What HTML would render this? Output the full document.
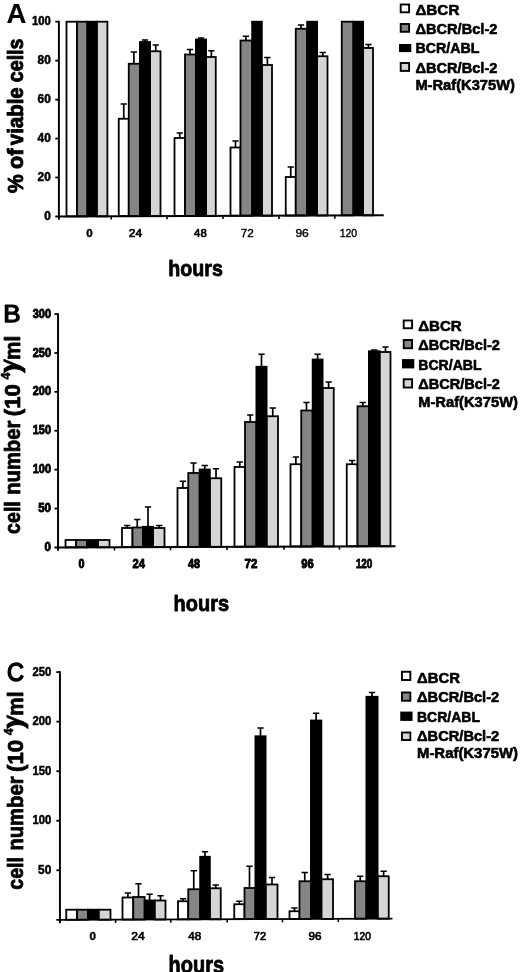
<!DOCTYPE html>
<html><head><meta charset="utf-8"><title>Figure</title>
<style>
html,body{margin:0;padding:0;background:#fff;}
body{width:520px;height:972px;overflow:hidden;}
svg{display:block;}
svg text{font-family:"Liberation Sans",sans-serif;font-weight:bold;fill:#000;stroke:#000;stroke-width:0.45px;stroke-linejoin:round;}

</style></head><body>
<svg width="520" height="972" viewBox="0 0 520 972">
<rect width="520" height="972" fill="#fff"/>
<rect x="66.50" y="21.70" width="10.50" height="194.64" fill="#ffffff" stroke="#000" stroke-width="1.8"/>
<rect x="77.00" y="21.70" width="10.40" height="194.64" fill="#858585" stroke="#000" stroke-width="1.8"/>
<rect x="96.80" y="21.70" width="10.60" height="194.64" fill="#d5d5d5" stroke="#000" stroke-width="1.8"/>
<rect x="86.50" y="20.80" width="11.20" height="195.54" fill="#000"/>
<path d="M123.75 118.75V104.00M120.60 104.00H126.90" stroke="#000" stroke-width="1.7" fill="none"/>
<path d="M133.88 63.75V52.00M130.72 52.00H137.03" stroke="#000" stroke-width="1.7" fill="none"/>
<path d="M145.00 42.00V40.00M141.85 40.00H148.15" stroke="#000" stroke-width="1.7" fill="none"/>
<path d="M155.75 51.25V45.00M152.60 45.00H158.90" stroke="#000" stroke-width="1.7" fill="none"/>
<rect x="118.75" y="118.75" width="10.00" height="97.39" fill="#ffffff" stroke="#000" stroke-width="1.8"/>
<rect x="128.75" y="63.75" width="11.15" height="152.39" fill="#858585" stroke="#000" stroke-width="1.8"/>
<rect x="150.10" y="51.25" width="10.40" height="164.89" fill="#d5d5d5" stroke="#000" stroke-width="1.8"/>
<rect x="139.00" y="41.10" width="12.00" height="175.04" fill="#000"/>
<path d="M179.75 138.00V133.00M176.60 133.00H182.90" stroke="#000" stroke-width="1.7" fill="none"/>
<path d="M190.00 54.50V49.50M186.85 49.50H193.15" stroke="#000" stroke-width="1.7" fill="none"/>
<path d="M201.00 39.50V38.00M197.85 38.00H204.15" stroke="#000" stroke-width="1.7" fill="none"/>
<path d="M211.38 57.00V50.75M208.22 50.75H214.53" stroke="#000" stroke-width="1.7" fill="none"/>
<rect x="174.50" y="138.00" width="10.50" height="77.93" fill="#ffffff" stroke="#000" stroke-width="1.8"/>
<rect x="185.00" y="54.50" width="10.90" height="161.43" fill="#858585" stroke="#000" stroke-width="1.8"/>
<rect x="206.10" y="57.00" width="9.65" height="158.93" fill="#d5d5d5" stroke="#000" stroke-width="1.8"/>
<rect x="195.00" y="38.60" width="12.00" height="177.33" fill="#000"/>
<path d="M235.50 147.50V141.00M232.35 141.00H238.65" stroke="#000" stroke-width="1.7" fill="none"/>
<path d="M245.88 40.50V36.25M242.72 36.25H249.03" stroke="#000" stroke-width="1.7" fill="none"/>
<path d="M267.38 65.00V57.50M264.23 57.50H270.52" stroke="#000" stroke-width="1.7" fill="none"/>
<rect x="230.50" y="147.50" width="10.00" height="68.21" fill="#ffffff" stroke="#000" stroke-width="1.8"/>
<rect x="240.50" y="40.50" width="11.65" height="175.21" fill="#858585" stroke="#000" stroke-width="1.8"/>
<rect x="261.85" y="65.00" width="10.15" height="150.71" fill="#d5d5d5" stroke="#000" stroke-width="1.8"/>
<rect x="251.25" y="20.80" width="11.50" height="194.91" fill="#000"/>
<path d="M290.75 177.00V167.00M287.60 167.00H293.90" stroke="#000" stroke-width="1.7" fill="none"/>
<path d="M301.00 28.75V25.00M297.85 25.00H304.15" stroke="#000" stroke-width="1.7" fill="none"/>
<path d="M322.75 56.25V52.50M319.60 52.50H325.90" stroke="#000" stroke-width="1.7" fill="none"/>
<rect x="285.75" y="177.00" width="10.00" height="38.50" fill="#ffffff" stroke="#000" stroke-width="1.8"/>
<rect x="295.75" y="28.75" width="11.40" height="186.75" fill="#858585" stroke="#000" stroke-width="1.8"/>
<rect x="317.10" y="56.25" width="10.40" height="159.25" fill="#d5d5d5" stroke="#000" stroke-width="1.8"/>
<rect x="306.25" y="20.80" width="11.75" height="194.70" fill="#000"/>
<path d="M368.50 48.00V44.50M365.35 44.50H371.65" stroke="#000" stroke-width="1.7" fill="none"/>
<rect x="341.75" y="21.70" width="11.65" height="193.62" fill="#858585" stroke="#000" stroke-width="1.8"/>
<rect x="363.10" y="48.00" width="9.90" height="167.32" fill="#d5d5d5" stroke="#000" stroke-width="1.8"/>
<rect x="352.50" y="20.80" width="11.50" height="194.52" fill="#000"/>
<path d="M58.9 20.80V219.75M55.30 216.45L383.75 215.20" stroke="#000" stroke-width="1.95" fill="none"/>
<path d="M55.30 177.50H58.9" stroke="#000" stroke-width="1.8"/>
<path d="M55.30 138.55H58.9" stroke="#000" stroke-width="1.8"/>
<path d="M55.30 99.60H58.9" stroke="#000" stroke-width="1.8"/>
<path d="M55.30 60.65H58.9" stroke="#000" stroke-width="1.8"/>
<path d="M55.30 21.70H58.9" stroke="#000" stroke-width="1.8"/>
<path d="M111.2 216.25V219.55" stroke="#000" stroke-width="1.6"/>
<path d="M167 216.03V219.33" stroke="#000" stroke-width="1.6"/>
<path d="M223 215.82V219.12" stroke="#000" stroke-width="1.6"/>
<path d="M279 215.60V218.90" stroke="#000" stroke-width="1.6"/>
<path d="M334.8 215.39V218.69" stroke="#000" stroke-width="1.6"/>
<text x="50.8" y="220.05" font-size="12" text-anchor="end" textLength="6.6" lengthAdjust="spacingAndGlyphs" style="stroke-width:0.5px">0</text>
<text x="50.8" y="181.1" font-size="12" text-anchor="end" textLength="13.2" lengthAdjust="spacingAndGlyphs" style="stroke-width:0.5px">20</text>
<text x="50.8" y="142.15" font-size="12" text-anchor="end" textLength="13.2" lengthAdjust="spacingAndGlyphs" style="stroke-width:0.5px">40</text>
<text x="50.8" y="103.2" font-size="12" text-anchor="end" textLength="13.2" lengthAdjust="spacingAndGlyphs" style="stroke-width:0.5px">60</text>
<text x="50.8" y="64.25" font-size="12" text-anchor="end" textLength="13.2" lengthAdjust="spacingAndGlyphs" style="stroke-width:0.5px">80</text>
<text x="50.8" y="25.3" font-size="12" text-anchor="end" textLength="18.8" lengthAdjust="spacingAndGlyphs" style="stroke-width:0.5px">100</text>
<text x="89.39999999999999" y="237.3" font-size="11.6" text-anchor="middle" >0</text>
<text x="135.4" y="237.3" font-size="11.6" text-anchor="middle" textLength="13.3" lengthAdjust="spacingAndGlyphs" style="font-weight:normal;stroke-width:0.7px">24</text>
<text x="200.4" y="237.3" font-size="11.6" text-anchor="middle" textLength="12.6" lengthAdjust="spacingAndGlyphs" style="font-weight:normal;stroke-width:0.7px">48</text>
<text x="247.2" y="237.3" font-size="11.6" text-anchor="middle" textLength="13.0" lengthAdjust="spacingAndGlyphs" style="font-weight:normal;stroke-width:0.4px">72</text>
<text x="302.1" y="237.3" font-size="11.6" text-anchor="middle" textLength="13.4" lengthAdjust="spacingAndGlyphs" style="font-weight:normal;stroke-width:0.4px">96</text>
<text x="348.40000000000003" y="237.3" font-size="11.6" text-anchor="middle" textLength="17.5" lengthAdjust="spacingAndGlyphs" style="font-weight:normal;stroke-width:0.4px">120</text>
<text x="6.6" y="23.0" font-size="27.5" text-anchor="start" style="stroke-width:0.2px">A</text>
<text transform="translate(23.3,192.9) rotate(-90)" font-size="22.5" textLength="18.7" lengthAdjust="spacingAndGlyphs" style="stroke-width:0.9px">%</text>
<text transform="translate(23.3,168.9) rotate(-90)" font-size="22.5" textLength="20.5" lengthAdjust="spacingAndGlyphs" style="stroke-width:0.9px">of</text>
<text transform="translate(23.3,145.2) rotate(-90)" font-size="22.5" textLength="57.9" lengthAdjust="spacingAndGlyphs" style="stroke-width:0.9px">viable</text>
<text transform="translate(23.3,82.2) rotate(-90)" font-size="22.5" textLength="43.7" lengthAdjust="spacingAndGlyphs" style="stroke-width:0.9px">cells</text>
<text x="168.3" y="275.8" font-size="22.5" text-anchor="start" textLength="54.6" lengthAdjust="spacingAndGlyphs" style="stroke-width:0.8px">hours</text>
<rect x="400.70" y="4.50" width="8.4" height="7.80" fill="#ffffff" stroke="#000" stroke-width="1.9"/>
<rect x="400.70" y="24.00" width="8.4" height="7.80" fill="#858585" stroke="#000" stroke-width="1.9"/>
<rect x="399" y="44.0" width="12.3" height="8.10" fill="#000"/>
<rect x="400.70" y="63.00" width="8.4" height="7.90" fill="#d5d5d5" stroke="#000" stroke-width="1.9"/>
<text x="415.4" y="14.9" font-size="15" text-anchor="start" textLength="44" lengthAdjust="spacingAndGlyphs" style="stroke-width:0.6px">ΔBCR</text>
<text x="415.4" y="33.8" font-size="15" text-anchor="start" textLength="82" lengthAdjust="spacingAndGlyphs" style="stroke-width:0.6px">ΔBCR/Bcl-2</text>
<text x="415.4" y="53.4" font-size="15" text-anchor="start" textLength="64" lengthAdjust="spacingAndGlyphs" style="stroke-width:0.6px">BCR/ABL</text>
<text x="415.4" y="72.9" font-size="15" text-anchor="start" textLength="82" lengthAdjust="spacingAndGlyphs" style="stroke-width:0.6px">ΔBCR/Bcl-2</text>
<text x="415.4" y="90.0" font-size="15" text-anchor="start" textLength="99.5" lengthAdjust="spacingAndGlyphs" style="stroke-width:0.6px">M-Raf(K375W)</text>
<rect x="65.50" y="540.00" width="10.50" height="7.29" fill="#ffffff" stroke="#000" stroke-width="1.8"/>
<rect x="76.00" y="540.00" width="10.90" height="7.29" fill="#858585" stroke="#000" stroke-width="1.8"/>
<rect x="97.85" y="540.00" width="11.65" height="7.29" fill="#d5d5d5" stroke="#000" stroke-width="1.8"/>
<rect x="86.00" y="539.10" width="12.75" height="8.19" fill="#000"/>
<path d="M127.25 528.00V525.50M124.10 525.50H130.40" stroke="#000" stroke-width="1.7" fill="none"/>
<path d="M137.25 527.50V519.50M134.10 519.50H140.40" stroke="#000" stroke-width="1.7" fill="none"/>
<path d="M148.00 526.75V507.00M144.85 507.00H151.15" stroke="#000" stroke-width="1.7" fill="none"/>
<path d="M159.25 528.00V525.50M156.10 525.50H162.40" stroke="#000" stroke-width="1.7" fill="none"/>
<rect x="122.00" y="528.00" width="10.50" height="19.08" fill="#ffffff" stroke="#000" stroke-width="1.8"/>
<rect x="132.50" y="527.50" width="10.40" height="19.58" fill="#858585" stroke="#000" stroke-width="1.8"/>
<rect x="153.10" y="528.00" width="11.40" height="19.08" fill="#d5d5d5" stroke="#000" stroke-width="1.8"/>
<rect x="142.00" y="525.85" width="12.00" height="21.23" fill="#000"/>
<path d="M182.88 488.00V481.25M179.72 481.25H186.03" stroke="#000" stroke-width="1.7" fill="none"/>
<path d="M193.50 473.00V463.00M190.35 463.00H196.65" stroke="#000" stroke-width="1.7" fill="none"/>
<path d="M204.75 469.50V465.50M201.60 465.50H207.90" stroke="#000" stroke-width="1.7" fill="none"/>
<path d="M216.00 478.25V468.75M212.85 468.75H219.15" stroke="#000" stroke-width="1.7" fill="none"/>
<rect x="177.50" y="488.00" width="10.75" height="58.88" fill="#ffffff" stroke="#000" stroke-width="1.8"/>
<rect x="188.25" y="473.00" width="11.40" height="73.88" fill="#858585" stroke="#000" stroke-width="1.8"/>
<rect x="209.85" y="478.25" width="11.40" height="68.63" fill="#d5d5d5" stroke="#000" stroke-width="1.8"/>
<rect x="198.75" y="468.60" width="12.00" height="78.28" fill="#000"/>
<path d="M239.75 467.00V462.00M236.60 462.00H242.90" stroke="#000" stroke-width="1.7" fill="none"/>
<path d="M250.25 422.00V415.00M247.10 415.00H253.40" stroke="#000" stroke-width="1.7" fill="none"/>
<path d="M261.50 366.75V354.25M258.35 354.25H264.65" stroke="#000" stroke-width="1.7" fill="none"/>
<path d="M272.75 416.25V408.00M269.60 408.00H275.90" stroke="#000" stroke-width="1.7" fill="none"/>
<rect x="234.50" y="467.00" width="10.50" height="79.67" fill="#ffffff" stroke="#000" stroke-width="1.8"/>
<rect x="245.00" y="422.00" width="11.40" height="124.67" fill="#858585" stroke="#000" stroke-width="1.8"/>
<rect x="266.60" y="416.25" width="11.40" height="130.42" fill="#d5d5d5" stroke="#000" stroke-width="1.8"/>
<rect x="255.50" y="365.85" width="12.00" height="180.82" fill="#000"/>
<path d="M295.88 464.25V457.00M292.73 457.00H299.02" stroke="#000" stroke-width="1.7" fill="none"/>
<path d="M306.50 410.50V402.50M303.35 402.50H309.65" stroke="#000" stroke-width="1.7" fill="none"/>
<path d="M317.62 359.50V354.25M314.48 354.25H320.77" stroke="#000" stroke-width="1.7" fill="none"/>
<path d="M328.62 388.00V382.00M325.48 382.00H331.77" stroke="#000" stroke-width="1.7" fill="none"/>
<rect x="290.50" y="464.25" width="10.75" height="82.21" fill="#ffffff" stroke="#000" stroke-width="1.8"/>
<rect x="301.25" y="410.50" width="11.40" height="135.96" fill="#858585" stroke="#000" stroke-width="1.8"/>
<rect x="322.60" y="388.00" width="11.15" height="158.46" fill="#d5d5d5" stroke="#000" stroke-width="1.8"/>
<rect x="311.75" y="358.60" width="11.75" height="187.86" fill="#000"/>
<path d="M352.12 464.25V460.50M348.98 460.50H355.27" stroke="#000" stroke-width="1.7" fill="none"/>
<path d="M362.75 406.25V402.50M359.60 402.50H365.90" stroke="#000" stroke-width="1.7" fill="none"/>
<path d="M374.25 351.25V350.00M371.10 350.00H377.40" stroke="#000" stroke-width="1.7" fill="none"/>
<path d="M385.50 352.00V347.00M382.35 347.00H388.65" stroke="#000" stroke-width="1.7" fill="none"/>
<rect x="346.75" y="464.25" width="10.75" height="82.00" fill="#ffffff" stroke="#000" stroke-width="1.8"/>
<rect x="357.50" y="406.25" width="11.40" height="140.00" fill="#858585" stroke="#000" stroke-width="1.8"/>
<rect x="379.60" y="352.00" width="10.90" height="194.25" fill="#d5d5d5" stroke="#000" stroke-width="1.8"/>
<rect x="368.00" y="350.35" width="12.50" height="195.90" fill="#000"/>
<path d="M58.05 313.20V550.70M54.45 547.4L395.5 546.15" stroke="#000" stroke-width="1.95" fill="none"/>
<path d="M54.45 508.52H58.05" stroke="#000" stroke-width="1.8"/>
<path d="M54.45 469.63H58.05" stroke="#000" stroke-width="1.8"/>
<path d="M54.45 430.75H58.05" stroke="#000" stroke-width="1.8"/>
<path d="M54.45 391.87H58.05" stroke="#000" stroke-width="1.8"/>
<path d="M54.45 352.98H58.05" stroke="#000" stroke-width="1.8"/>
<path d="M54.45 314.10H58.05" stroke="#000" stroke-width="1.8"/>
<path d="M114.5 547.19V550.49" stroke="#000" stroke-width="1.6"/>
<path d="M170.5 546.98V550.28" stroke="#000" stroke-width="1.6"/>
<path d="M227 546.77V550.07" stroke="#000" stroke-width="1.6"/>
<path d="M283.9 546.56V549.86" stroke="#000" stroke-width="1.6"/>
<path d="M339.5 546.36V549.66" stroke="#000" stroke-width="1.6"/>
<text x="51" y="551.0" font-size="12" text-anchor="end" textLength="6.4" lengthAdjust="spacingAndGlyphs" style="stroke-width:0.85px">0</text>
<text x="51" y="512.12" font-size="12" text-anchor="end" textLength="12.8" lengthAdjust="spacingAndGlyphs" style="stroke-width:0.85px">50</text>
<text x="51" y="473.23" font-size="12" text-anchor="end" textLength="18.2" lengthAdjust="spacingAndGlyphs" style="stroke-width:0.85px">100</text>
<text x="51" y="434.35" font-size="12" text-anchor="end" textLength="18.2" lengthAdjust="spacingAndGlyphs" style="stroke-width:0.85px">150</text>
<text x="51" y="395.47" font-size="12" text-anchor="end" textLength="18.2" lengthAdjust="spacingAndGlyphs" style="stroke-width:0.85px">200</text>
<text x="51" y="356.58" font-size="12" text-anchor="end" textLength="18.2" lengthAdjust="spacingAndGlyphs" style="stroke-width:0.85px">250</text>
<text x="51" y="317.7" font-size="12" text-anchor="end" textLength="18.2" lengthAdjust="spacingAndGlyphs" style="stroke-width:0.85px">300</text>
<text x="81.4" y="568.1" font-size="12.2" text-anchor="middle" textLength="6.0" lengthAdjust="spacingAndGlyphs" style="stroke-width:0.9px">0</text>
<text x="138.7" y="568.1" font-size="12.2" text-anchor="middle" textLength="12.4" lengthAdjust="spacingAndGlyphs" style="stroke-width:0.9px">24</text>
<text x="194.1" y="568.1" font-size="12.2" text-anchor="middle" textLength="12.0" lengthAdjust="spacingAndGlyphs" style="stroke-width:0.9px">48</text>
<text x="251.0" y="568.1" font-size="12.2" text-anchor="middle" textLength="12.8" lengthAdjust="spacingAndGlyphs" style="stroke-width:0.9px">72</text>
<text x="307.5" y="568.1" font-size="12.2" text-anchor="middle" textLength="12.4" lengthAdjust="spacingAndGlyphs" style="stroke-width:0.9px">96</text>
<text x="364.09999999999997" y="568.1" font-size="12.2" text-anchor="middle" textLength="16.4" lengthAdjust="spacingAndGlyphs" style="stroke-width:0.9px">120</text>
<text x="3.3" y="321.8" font-size="24.4" text-anchor="start" textLength="17.4" lengthAdjust="spacingAndGlyphs" style="font-weight:normal;stroke-width:1.25px">B</text>
<text x="173.6" y="611.1" font-size="22.5" text-anchor="start" textLength="55.5" lengthAdjust="spacingAndGlyphs" style="stroke-width:0.8px">hours</text>
<rect x="403.70" y="320.50" width="8.4" height="7.75" fill="#ffffff" stroke="#000" stroke-width="1.9"/>
<rect x="403.70" y="340.00" width="8.4" height="8.25" fill="#858585" stroke="#000" stroke-width="1.9"/>
<rect x="402" y="359.1" width="12.3" height="9.30" fill="#000"/>
<rect x="403.70" y="379.25" width="8.4" height="8.25" fill="#d5d5d5" stroke="#000" stroke-width="1.9"/>
<text x="418.2" y="330.5" font-size="15" text-anchor="start" textLength="43.5" lengthAdjust="spacingAndGlyphs" style="stroke-width:0.6px">ΔBCR</text>
<text x="418.2" y="349.5" font-size="15" text-anchor="start" textLength="81.75" lengthAdjust="spacingAndGlyphs" style="stroke-width:0.6px">ΔBCR/Bcl-2</text>
<text x="418.2" y="369.5" font-size="15" text-anchor="start" textLength="63.5" lengthAdjust="spacingAndGlyphs" style="stroke-width:0.6px">BCR/ABL</text>
<text x="418.2" y="389.25" font-size="15" text-anchor="start" textLength="81.75" lengthAdjust="spacingAndGlyphs" style="stroke-width:0.6px">ΔBCR/Bcl-2</text>
<text x="418.2" y="407.2" font-size="15" text-anchor="start" textLength="99.75" lengthAdjust="spacingAndGlyphs" style="stroke-width:0.6px">M-Raf(K375W)</text>
<rect x="66.25" y="909.70" width="10.75" height="10.04" fill="#ffffff" stroke="#000" stroke-width="1.8"/>
<rect x="77.00" y="909.70" width="10.90" height="10.04" fill="#858585" stroke="#000" stroke-width="1.8"/>
<rect x="98.60" y="909.70" width="11.90" height="10.04" fill="#d5d5d5" stroke="#000" stroke-width="1.8"/>
<rect x="87.00" y="908.80" width="12.50" height="10.94" fill="#000"/>
<path d="M127.88 897.50V893.00M124.72 893.00H131.03" stroke="#000" stroke-width="1.7" fill="none"/>
<path d="M138.50 897.00V883.75M135.35 883.75H141.65" stroke="#000" stroke-width="1.7" fill="none"/>
<path d="M149.62 900.50V894.25M146.47 894.25H152.78" stroke="#000" stroke-width="1.7" fill="none"/>
<path d="M160.50 900.50V895.75M157.35 895.75H163.65" stroke="#000" stroke-width="1.7" fill="none"/>
<rect x="122.50" y="897.50" width="10.75" height="22.03" fill="#ffffff" stroke="#000" stroke-width="1.8"/>
<rect x="133.25" y="897.00" width="11.40" height="22.53" fill="#858585" stroke="#000" stroke-width="1.8"/>
<rect x="154.60" y="900.50" width="10.90" height="19.03" fill="#d5d5d5" stroke="#000" stroke-width="1.8"/>
<rect x="143.75" y="899.60" width="11.75" height="19.93" fill="#000"/>
<path d="M183.12 901.25V898.75M179.97 898.75H186.28" stroke="#000" stroke-width="1.7" fill="none"/>
<path d="M193.75 889.25V870.75M190.60 870.75H196.90" stroke="#000" stroke-width="1.7" fill="none"/>
<path d="M205.00 856.75V851.75M201.85 851.75H208.15" stroke="#000" stroke-width="1.7" fill="none"/>
<path d="M215.75 888.25V885.00M212.60 885.00H218.90" stroke="#000" stroke-width="1.7" fill="none"/>
<rect x="178.00" y="901.25" width="10.25" height="18.08" fill="#ffffff" stroke="#000" stroke-width="1.8"/>
<rect x="188.25" y="889.25" width="11.90" height="30.08" fill="#858585" stroke="#000" stroke-width="1.8"/>
<rect x="209.85" y="888.25" width="10.90" height="31.08" fill="#d5d5d5" stroke="#000" stroke-width="1.8"/>
<rect x="199.25" y="855.85" width="11.50" height="63.48" fill="#000"/>
<path d="M239.38 904.25V901.25M236.22 901.25H242.53" stroke="#000" stroke-width="1.7" fill="none"/>
<path d="M249.50 888.00V866.25M246.35 866.25H252.65" stroke="#000" stroke-width="1.7" fill="none"/>
<path d="M260.50 736.25V728.00M257.35 728.00H263.65" stroke="#000" stroke-width="1.7" fill="none"/>
<path d="M272.00 884.50V877.50M268.85 877.50H275.15" stroke="#000" stroke-width="1.7" fill="none"/>
<rect x="234.25" y="904.25" width="10.25" height="14.86" fill="#ffffff" stroke="#000" stroke-width="1.8"/>
<rect x="244.50" y="888.00" width="10.90" height="31.11" fill="#858585" stroke="#000" stroke-width="1.8"/>
<rect x="265.60" y="884.50" width="11.90" height="34.61" fill="#d5d5d5" stroke="#000" stroke-width="1.8"/>
<rect x="254.50" y="735.35" width="12.00" height="183.76" fill="#000"/>
<path d="M294.50 911.25V908.00M291.35 908.00H297.65" stroke="#000" stroke-width="1.7" fill="none"/>
<path d="M304.75 881.25V872.50M301.60 872.50H307.90" stroke="#000" stroke-width="1.7" fill="none"/>
<path d="M316.12 720.50V713.25M312.98 713.25H319.27" stroke="#000" stroke-width="1.7" fill="none"/>
<path d="M327.62 879.25V874.50M324.48 874.50H330.77" stroke="#000" stroke-width="1.7" fill="none"/>
<rect x="289.50" y="911.25" width="10.00" height="7.66" fill="#ffffff" stroke="#000" stroke-width="1.8"/>
<rect x="299.50" y="881.25" width="11.40" height="37.66" fill="#858585" stroke="#000" stroke-width="1.8"/>
<rect x="321.35" y="879.25" width="11.65" height="39.66" fill="#d5d5d5" stroke="#000" stroke-width="1.8"/>
<rect x="310.00" y="719.60" width="12.25" height="199.31" fill="#000"/>
<path d="M360.25 881.25V876.25M357.10 876.25H363.40" stroke="#000" stroke-width="1.7" fill="none"/>
<path d="M372.00 696.75V692.50M368.85 692.50H375.15" stroke="#000" stroke-width="1.7" fill="none"/>
<path d="M383.62 876.25V871.25M380.48 871.25H386.77" stroke="#000" stroke-width="1.7" fill="none"/>
<rect x="355.00" y="881.25" width="11.40" height="37.45" fill="#858585" stroke="#000" stroke-width="1.8"/>
<rect x="377.60" y="876.25" width="11.15" height="42.45" fill="#d5d5d5" stroke="#000" stroke-width="1.8"/>
<rect x="365.50" y="695.85" width="13.00" height="222.85" fill="#000"/>
<path d="M59.95 671.20V923.15M56.35 919.85L392.5 918.60" stroke="#000" stroke-width="1.95" fill="none"/>
<path d="M56.35 870.30H59.95" stroke="#000" stroke-width="1.8"/>
<path d="M56.35 820.75H59.95" stroke="#000" stroke-width="1.8"/>
<path d="M56.35 771.20H59.95" stroke="#000" stroke-width="1.8"/>
<path d="M56.35 721.65H59.95" stroke="#000" stroke-width="1.8"/>
<path d="M56.35 672.10H59.95" stroke="#000" stroke-width="1.8"/>
<path d="M115.6 919.64V922.94" stroke="#000" stroke-width="1.6"/>
<path d="M170.75 919.43V922.73" stroke="#000" stroke-width="1.6"/>
<path d="M227.2 919.22V922.52" stroke="#000" stroke-width="1.6"/>
<path d="M282.5 919.01V922.31" stroke="#000" stroke-width="1.6"/>
<path d="M338.3 918.80V922.10" stroke="#000" stroke-width="1.6"/>
<text x="51.25" y="873.9" font-size="12" text-anchor="end" textLength="13.2" lengthAdjust="spacingAndGlyphs" style="stroke-width:0.5px">50</text>
<text x="51.25" y="824.35" font-size="12" text-anchor="end" textLength="18.8" lengthAdjust="spacingAndGlyphs" style="stroke-width:0.5px">100</text>
<text x="51.25" y="774.8" font-size="12" text-anchor="end" textLength="18.8" lengthAdjust="spacingAndGlyphs" style="stroke-width:0.5px">150</text>
<text x="51.25" y="725.25" font-size="12" text-anchor="end" textLength="18.8" lengthAdjust="spacingAndGlyphs" style="stroke-width:0.5px">200</text>
<text x="51.25" y="675.7" font-size="12" text-anchor="end" textLength="18.8" lengthAdjust="spacingAndGlyphs" style="stroke-width:0.5px">250</text>
<text x="92.8" y="939.8" font-size="11.6" text-anchor="middle" >0</text>
<text x="138.1" y="939.8" font-size="11.6" text-anchor="middle" textLength="13.5" lengthAdjust="spacingAndGlyphs" style="font-weight:normal;stroke-width:0.7px">24</text>
<text x="194.7" y="939.8" font-size="11.6" text-anchor="middle" textLength="13" lengthAdjust="spacingAndGlyphs" style="font-weight:normal;stroke-width:0.7px">48</text>
<text x="260" y="939.8" font-size="11.6" text-anchor="middle" textLength="12.3" lengthAdjust="spacingAndGlyphs" style="font-weight:normal;stroke-width:0.7px">72</text>
<text x="315" y="939.8" font-size="11.6" text-anchor="middle" textLength="13" lengthAdjust="spacingAndGlyphs" style="font-weight:normal;stroke-width:0.7px">96</text>
<text x="362.3" y="939.8" font-size="11.6" text-anchor="middle" textLength="17" lengthAdjust="spacingAndGlyphs" style="font-weight:normal;stroke-width:0.7px">120</text>
<text x="7.0" y="680.9" font-size="25.1" text-anchor="start" textLength="17.0" lengthAdjust="spacingAndGlyphs" style="font-weight:normal;stroke-width:1.45px">C</text>
<text x="168.6" y="973.2" font-size="23" text-anchor="start" textLength="55.4" lengthAdjust="spacingAndGlyphs" style="stroke-width:0.8px">hours</text>
<rect x="401.95" y="671.75" width="8.4" height="8.25" fill="#ffffff" stroke="#000" stroke-width="1.9"/>
<rect x="401.95" y="692.50" width="8.4" height="8.25" fill="#858585" stroke="#000" stroke-width="1.9"/>
<rect x="400.25" y="711.6" width="12.3" height="9.30" fill="#000"/>
<rect x="401.95" y="732.50" width="8.4" height="7.50" fill="#d5d5d5" stroke="#000" stroke-width="1.9"/>
<text x="417.0" y="682.5" font-size="15" text-anchor="start" textLength="43" lengthAdjust="spacingAndGlyphs" style="stroke-width:0.6px">ΔBCR</text>
<text x="417.0" y="702" font-size="15" text-anchor="start" textLength="82.25" lengthAdjust="spacingAndGlyphs" style="stroke-width:0.6px">ΔBCR/Bcl-2</text>
<text x="417.0" y="721.75" font-size="15" text-anchor="start" textLength="63" lengthAdjust="spacingAndGlyphs" style="stroke-width:0.6px">BCR/ABL</text>
<text x="417.0" y="741.25" font-size="15" text-anchor="start" textLength="82.25" lengthAdjust="spacingAndGlyphs" style="stroke-width:0.6px">ΔBCR/Bcl-2</text>
<text x="417.0" y="758.2" font-size="15" text-anchor="start" textLength="101" lengthAdjust="spacingAndGlyphs" style="stroke-width:0.6px">M-Raf(K375W)</text>
<text transform="translate(20.4,533.9) rotate(-90)" font-size="22.5" textLength="32.7" lengthAdjust="spacingAndGlyphs" style="stroke-width:0.8px">cell</text>
<text transform="translate(20.4,494.8) rotate(-90)" font-size="22.5" textLength="74.1" lengthAdjust="spacingAndGlyphs" style="stroke-width:0.8px">number</text>
<text transform="translate(20.4,416.2) rotate(-90)" font-size="22.5" textLength="32.1" lengthAdjust="spacingAndGlyphs" style="stroke-width:0.8px">(10</text>
<text transform="translate(20.4,372.8) rotate(-90)" font-size="22.5" textLength="9.1" lengthAdjust="spacingAndGlyphs" style="stroke-width:0.8px">)</text>
<text transform="translate(20.4,359.95) rotate(-90)" font-size="22.5" textLength="24.15" lengthAdjust="spacingAndGlyphs" style="stroke-width:0.8px">ml</text>
<text transform="translate(20.4,368.6) rotate(-90) skewX(-12)" font-size="22.5" style="stroke-width:0.3px">/</text>
<text transform="translate(9.599999999999998,379.4) rotate(-90)" font-size="12.5" textLength="6.9" lengthAdjust="spacingAndGlyphs" >4</text>
<text transform="translate(23.4,889.7) rotate(-90)" font-size="22.5" textLength="32.7" lengthAdjust="spacingAndGlyphs" style="stroke-width:0.8px">cell</text>
<text transform="translate(23.4,850.6) rotate(-90)" font-size="22.5" textLength="74.1" lengthAdjust="spacingAndGlyphs" style="stroke-width:0.8px">number</text>
<text transform="translate(23.4,772.0) rotate(-90)" font-size="22.5" textLength="32.1" lengthAdjust="spacingAndGlyphs" style="stroke-width:0.8px">(10</text>
<text transform="translate(23.4,728.6) rotate(-90)" font-size="22.5" textLength="9.1" lengthAdjust="spacingAndGlyphs" style="stroke-width:0.8px">)</text>
<text transform="translate(23.4,715.75) rotate(-90)" font-size="22.5" textLength="24.15" lengthAdjust="spacingAndGlyphs" style="stroke-width:0.8px">ml</text>
<text transform="translate(23.4,724.4) rotate(-90) skewX(-12)" font-size="22.5" style="stroke-width:0.3px">/</text>
<text transform="translate(12.599999999999998,735.2) rotate(-90)" font-size="12.5" textLength="6.9" lengthAdjust="spacingAndGlyphs" >4</text>
</svg>
</body></html>
